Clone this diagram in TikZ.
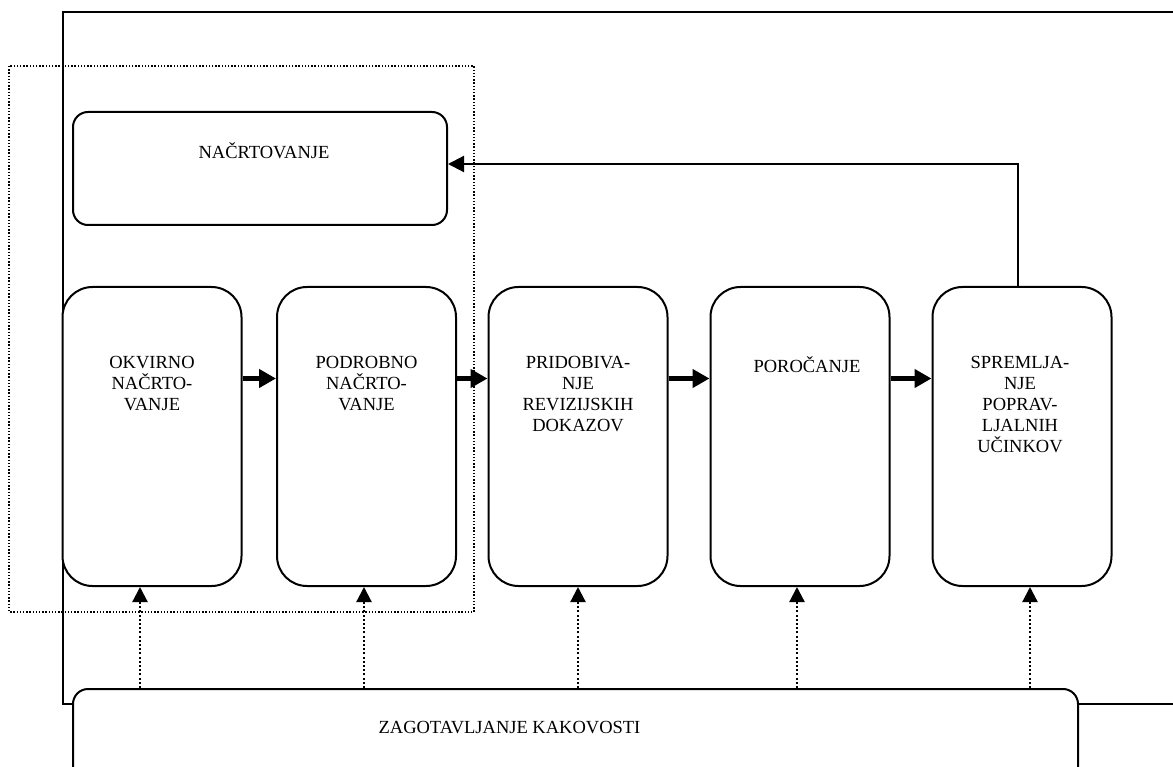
\documentclass[tikz,border=0pt]{standalone}
\usepackage{fontspec}
\setmainfont{Liberation Serif}
\usepackage{tikz}
\usetikzlibrary{arrows.meta}

\begin{document}
\begin{tikzpicture}[x=1pt, y=-1pt,
  every node/.style={inner sep=0pt, font=\fontsize{18.5}{21}\selectfont},
  stage/.style={draw, line width=2pt, fill=white, rounded corners=30pt, minimum width=179pt, minimum height=299pt},
  box/.style={draw, line width=2pt, fill=white, rounded corners=15pt},
  txt/.style={align=center, anchor=north},
  flow/.style={line width=5.5pt, -{Triangle[length=17pt,width=18pt]}},
  back/.style={line width=2.2pt, -{Triangle[length=16pt,width=16pt]}},
  qarrow/.style={line width=2.2pt, dash pattern=on 2pt off 2.2pt, -{Triangle[length=15pt,width=15pt]}}]
  \useasboundingbox (0,0) rectangle (1173,767);
  % frames
  \draw[line width=2pt] (1180,12) -- (63,12) -- (63,704) -- (1180,704);
  \draw[line width=1.4pt, dash pattern=on 1.4pt off 1.8pt] (9,66) rectangle (474,612);
  % boxes
  \node[box, minimum width=374pt, minimum height=113pt] (nac) at (260,168.5) {};
  \node at ([xshift=4pt,yshift=17.5pt]nac.center) {NAČRTOVANJE};
  \node[stage] (okv) at (152,436.5) {};
  \node[stage] (pod) at (366.5,436.5) {};
  \node[stage] (pri) at (578,436.5) {};
  \node[stage] (por) at (800,436.5) {};
  \node[stage] (spr) at (1022,436.5) {};
  \node[txt] at ([yshift=-70pt]okv.north) {OKVIRNO\\NAČRTO-\\VANJE};
  \node[txt] at ([yshift=-70pt]pod.north) {PODROBNO\\NAČRTO-\\VANJE};
  \node[txt] at ([yshift=-70pt]pri.north) {PRIDOBIVA-\\NJE\\REVIZIJSKIH\\DOKAZOV};
  \node[txt] at ([xshift=7pt,yshift=-70pt]por.north) {POROČANJE};
  \node[txt] at ([xshift=-2pt,yshift=-70pt]spr.north) {SPREMLJA-\\NJE\\POPRAV-\\LJALNIH\\UČINKOV};
  \node[box, minimum width=1005pt, minimum height=111pt] (qa) at (575.5,744.5) {};
  \node at ([xshift=-66pt,yshift=16.5pt]qa.center) {ZAGOTAVLJANJE KAKOVOSTI};
  % arrows
  \draw[flow] ([yshift=58pt]okv.east) -- ([yshift=58pt]pod.west);
  \draw[flow] ([yshift=58pt]pod.east) -- ([yshift=58pt]pri.west);
  \draw[flow] ([yshift=58pt]por.west -| pri.east) -- ([yshift=58pt]por.west);
  \draw[flow] ([yshift=58pt]por.east) -- ([yshift=58pt]spr.west);
  \draw[back] ([xshift=-4pt]spr.north) |- ([yshift=4.5pt]nac.east);
  \draw[qarrow] ([xshift=-12pt]okv.south |- qa.north) -- ([xshift=-12pt]okv.south);
  \draw[qarrow] ([xshift=-2.5pt]pod.south |- qa.north) -- ([xshift=-2.5pt]pod.south);
  \draw[qarrow] (pri.south |- qa.north) -- (pri.south);
  \draw[qarrow] ([xshift=-3pt]por.south |- qa.north) -- ([xshift=-3pt]por.south);
  \draw[qarrow] ([xshift=8pt]spr.south |- qa.north) -- ([xshift=8pt]spr.south);
\end{tikzpicture}
\end{document}
